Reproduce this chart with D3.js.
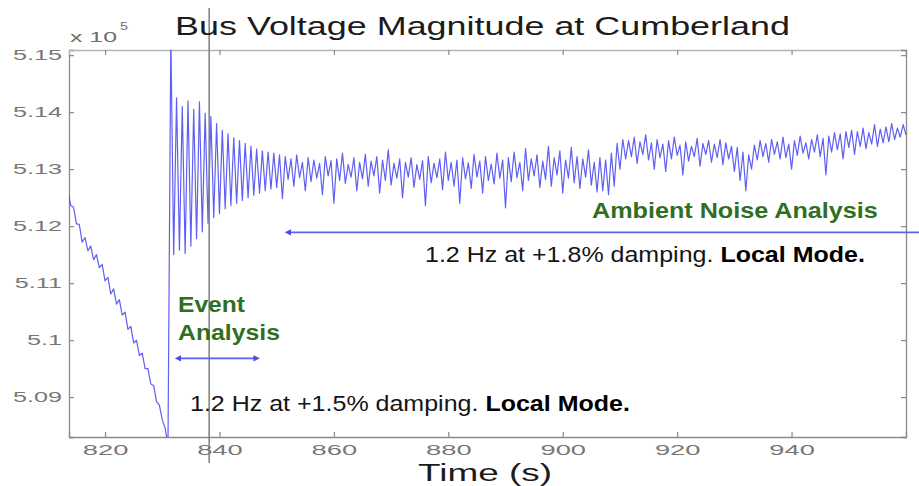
<!DOCTYPE html>
<html>
<head>
<meta charset="utf-8">
<script src="https://cdn.jsdelivr.net/npm/d3@7"></script>
<style>
  html, body { margin: 0; padding: 0; background: #fff; }
  svg { display: block; font-family: "Liberation Sans", Arial, Helvetica, sans-serif; }
  text { white-space: pre; }
</style>
</head>
<body>
<svg id="chart" width="919" height="486"></svg>
<script>
// ---- chart content -------------------------------------------------------
const chartTitle = "Bus Voltage Magnitude at Cumberland";
const xLabel = "Time (s)";
const yExponent = "5";

const xTicks = [820, 840, 860, 880, 900, 920, 940];
const yTicks = [5.09, 5.1, 5.11, 5.12, 5.13, 5.14, 5.15];
const yTickLabels = ["5.09", "5.1", "5.11", "5.12", "5.13", "5.14", "5.15"];

// bus voltage magnitude (x 10^5 V), sampled every 0.5 s from t = 813.5 s
const sampleStart = 813.5;
const sampleStep = 0.5;
const busVoltage = [
  // 813.5 – 831.0 s : sagging voltage before the event
  5.1262, 5.1236, 5.1233, 5.1204, 5.1203, 5.1172, 5.1180, 5.1157, 5.1165, 5.1141,
  5.1150, 5.1127, 5.1133, 5.1104, 5.1110, 5.1081, 5.1090, 5.1063, 5.1071, 5.1044,
  5.1049, 5.1019, 5.1024, 5.0995, 5.1000, 5.0973, 5.0977, 5.0950, 5.0950, 5.0923,
  5.0920, 5.0892, 5.0886, 5.0860, 5.0846, 5.0815,
  // 831.5 – 851.0 s : event ring-down
  5.1535, 5.1150, 5.1425, 5.1158, 5.1410, 5.1152, 5.1420, 5.1165, 5.1405, 5.1178,
  5.1418, 5.1190, 5.1398, 5.1205, 5.1392, 5.1215, 5.1380, 5.1222, 5.1368, 5.1230,
  5.1362, 5.1236, 5.1355, 5.1240, 5.1350, 5.1245, 5.1345, 5.1250, 5.1340, 5.1254,
  5.1335, 5.1258, 5.1332, 5.1262, 5.1330, 5.1265, 5.1328, 5.1268, 5.1325, 5.1248,
  // 851.5 – 960.0 s : ambient operation
  5.1322, 5.1282, 5.1318, 5.1270, 5.1325, 5.1285, 5.1312, 5.1262, 5.1320, 5.1278,
  5.1316, 5.1284, 5.1310, 5.1255, 5.1322, 5.1288, 5.1315, 5.1240, 5.1318, 5.1280,
  5.1328, 5.1275, 5.1308, 5.1286, 5.1320, 5.1262, 5.1312, 5.1283, 5.1326, 5.1270,
  5.1314, 5.1288, 5.1322, 5.1258, 5.1316, 5.1280, 5.1334, 5.1272, 5.1310, 5.1284,
  5.1318, 5.1250, 5.1312, 5.1286, 5.1320, 5.1268, 5.1308, 5.1282, 5.1315, 5.1236,
  5.1322, 5.1276, 5.1310, 5.1285, 5.1318, 5.1264, 5.1330, 5.1280, 5.1312, 5.1270,
  5.1316, 5.1240, 5.1320, 5.1283, 5.1311, 5.1266, 5.1326, 5.1286, 5.1314, 5.1258,
  5.1322, 5.1280, 5.1309, 5.1274, 5.1328, 5.1284, 5.1316, 5.1232, 5.1320, 5.1278,
  5.1330, 5.1285, 5.1312, 5.1262, 5.1336, 5.1280, 5.1318, 5.1288, 5.1325, 5.1268,
  5.1314, 5.1282, 5.1340, 5.1270, 5.1320, 5.1290, 5.1332, 5.1258, 5.1316, 5.1284,
  5.1338, 5.1276, 5.1322, 5.1266, 5.1318, 5.1286, 5.1334, 5.1272, 5.1312, 5.1260,
  5.1320, 5.1262, 5.1316, 5.1255, 5.1328, 5.1270, 5.1345, 5.1300, 5.1352, 5.1318,
  5.1350, 5.1322, 5.1356, 5.1310, 5.1348, 5.1326, 5.1360, 5.1316, 5.1346, 5.1300,
  5.1352, 5.1320, 5.1344, 5.1296, 5.1350, 5.1318, 5.1356, 5.1324, 5.1342, 5.1290,
  5.1348, 5.1314, 5.1340, 5.1322, 5.1354, 5.1305, 5.1345, 5.1326, 5.1350, 5.1312,
  5.1344, 5.1320, 5.1352, 5.1308, 5.1346, 5.1318, 5.1340, 5.1296, 5.1338, 5.1280,
  5.1330, 5.1262, 5.1325, 5.1300, 5.1342, 5.1316, 5.1350, 5.1322, 5.1345, 5.1312,
  5.1352, 5.1326, 5.1348, 5.1318, 5.1356, 5.1320, 5.1344, 5.1300, 5.1350, 5.1324,
  5.1358, 5.1328, 5.1346, 5.1318, 5.1352, 5.1330, 5.1360, 5.1322, 5.1354, 5.1290,
  5.1358, 5.1330, 5.1364, 5.1334, 5.1362, 5.1318, 5.1366, 5.1338, 5.1368, 5.1326,
  5.1366, 5.1340, 5.1372, 5.1336, 5.1364, 5.1344, 5.1378, 5.1340, 5.1370, 5.1346,
  5.1374, 5.1348, 5.1380, 5.1352, 5.1372, 5.1356, 5.1378, 5.1360
];

// analysis windows (s) and the levels where their arrows are drawn
const markerTime = 838.2;
const eventWindow = [832.75, 846.5];
const eventArrowLevel = 5.0968;
const ambientWindow = [852.0, 962.3];
const ambientArrowLevel = 5.1189;

const eventTitle = ["Event", "Analysis"];
const ambientTitle = "Ambient Noise Analysis";
const eventResult = ["1.2 Hz at +1.5% damping. ", "Local Mode."];
const ambientResult = ["1.2 Hz at +1.8% damping. ", "Local Mode."];

// ---- layout --------------------------------------------------------------
const plot = { left: 69, right: 906, top: 50, bottom: 437 };
const svg = d3.select("#chart");

const x = d3.scaleLinear().domain([813.7, 960]).range([plot.left, plot.right]);
const y = d3.scaleLinear().domain([5.083, 5.1509]).range([plot.bottom, plot.top]);

const series = busVoltage.map((v, i) => ({ t: sampleStart + i * sampleStep, v }));

const frameColor = "#8a8a8a";
const tickTextColor = "#777";
const noteGreen = "#2f6f22";
const traceBlue = "#4343f2";

// text whose width is fitted by a horizontal stretch
function placeText(parent, o) {
  const t = parent.append("text")
    .attr("font-size", o.size)
    .attr("fill", o.fill || "#111")
    .attr("text-anchor", o.anchor || "start");
  o.parts.forEach(p => t.append("tspan")
    .attr("font-weight", p.weight || "normal")
    .attr("fill", p.fill || null)
    .text(p.text));
  const w = t.node().getComputedTextLength();
  t.attr("transform", `translate(${o.x},${o.y}) scale(${o.width / w},1)`);
  return t;
}

// ---- axes & frame ----------------------------------------------------------
function styleAxis(g) {
  g.select(".domain").attr("stroke", frameColor).attr("stroke-width", 1.3);
  g.selectAll(".tick line").attr("stroke", frameColor).attr("stroke-width", 1.2);
}

const gx = svg.append("g")
  .attr("transform", `translate(0,${plot.bottom})`)
  .call(d3.axisBottom(x).tickValues(xTicks).tickSize(-5).tickPadding(8).tickFormat(d3.format("d")))
  .call(styleAxis);
gx.selectAll(".tick text")
  .attr("font-size", 14).attr("fill", tickTextColor)
  .attr("font-family", null)
  .attr("transform", "scale(1.95,1)");

const gy = svg.append("g")
  .attr("transform", `translate(${plot.left},0)`)
  .call(d3.axisLeft(y).tickValues(yTicks).tickSize(-5).tickPadding(7)
    .tickFormat((d, i) => yTickLabels[i]))
  .call(styleAxis);
gy.selectAll(".tick text")
  .attr("font-size", 14).attr("fill", tickTextColor)
  .attr("font-family", null)
  .attr("x", -7 / 1.8)
  .attr("transform", "scale(1.8,1)");

svg.append("g")
  .attr("transform", `translate(0,${plot.top})`)
  .call(d3.axisTop(x).tickValues(xTicks).tickSize(-5).tickFormat(""))
  .call(styleAxis)
  .call(g => g.select(".domain").attr("stroke", "#b5b5b5"));

svg.append("g")
  .attr("transform", `translate(${plot.right},0)`)
  .call(d3.axisRight(y).tickValues(yTicks).tickSize(-5).tickFormat(""))
  .call(styleAxis);

// ---- voltage trace ---------------------------------------------------------
svg.append("clipPath").attr("id", "plot-clip")
  .append("rect")
  .attr("x", plot.left).attr("y", plot.top)
  .attr("width", plot.right - plot.left).attr("height", plot.bottom - plot.top);

svg.append("path")
  .datum(series)
  .attr("clip-path", "url(#plot-clip)")
  .attr("fill", "none")
  .attr("stroke", traceBlue)
  .attr("stroke-width", 1.2)
  .attr("stroke-opacity", 0.85)
  .attr("stroke-linejoin", "round")
  .attr("d", d3.line().x(d => x(d.t)).y(d => y(d.v)));

// event marker line
svg.append("line")
  .attr("x1", x(markerTime)).attr("x2", x(markerTime))
  .attr("y1", 8).attr("y2", 463)
  .attr("stroke", "#7d7d7d").attr("stroke-width", 1.5);

// ---- titles ----------------------------------------------------------------
placeText(svg, { parts: [{ text: chartTitle }], x: 482.5, y: 35, width: 615, size: 25,
  anchor: "middle", fill: "#1c1c1c" });
placeText(svg, { parts: [{ text: xLabel }], x: 485, y: 480.5, width: 134, size: 23.5,
  anchor: "middle", fill: "#1c1c1c" });
placeText(svg, { parts: [{ text: "x 10" }], x: 70, y: 42, width: 47, size: 15, fill: "#6e6e6e" });
placeText(svg, { parts: [{ text: yExponent }], x: 120, y: 30, width: 8, size: 10, fill: "#6e6e6e" });

// ---- analysis annotations --------------------------------------------------
const defs = svg.append("defs");
function arrowMarker(id, orient) {
  defs.append("marker")
    .attr("id", id).attr("viewBox", "0 0 10 10")
    .attr("refX", 5).attr("refY", 5)
    .attr("markerWidth", 4).attr("markerHeight", 4)
    .attr("orient", orient)
    .append("path").attr("d", "M0,0 L10,5 L0,10 Z").attr("fill", "#4b4be8");
}
arrowMarker("head-end", "auto");
arrowMarker("head-start", "auto-start-reverse");

const ev = svg.append("g");
placeText(ev, { parts: [{ text: eventTitle[0], weight: "bold" }], x: 178, y: 312, width: 67, size: 22, fill: noteGreen });
placeText(ev, { parts: [{ text: eventTitle[1], weight: "bold" }], x: 178, y: 340, width: 102, size: 22, fill: noteGreen });
ev.append("line")
  .attr("x1", x(eventWindow[0])).attr("x2", x(eventWindow[1]))
  .attr("y1", y(eventArrowLevel)).attr("y2", y(eventArrowLevel))
  .attr("stroke", "#5c5cf0").attr("stroke-width", 1.6)
  .attr("marker-start", "url(#head-start)").attr("marker-end", "url(#head-end)");
placeText(ev, { parts: [{ text: eventResult[0] }, { text: eventResult[1], weight: "bold", fill: "#000" }],
  x: 190, y: 411, width: 440, size: 22, fill: "#151515" });

const amb = svg.append("g");
placeText(amb, { parts: [{ text: ambientTitle, weight: "bold" }], x: 592, y: 218, width: 286, size: 22, fill: noteGreen });
amb.append("line")
  .attr("x1", x(ambientWindow[0])).attr("x2", x(ambientWindow[1]))
  .attr("y1", y(ambientArrowLevel)).attr("y2", y(ambientArrowLevel))
  .attr("stroke", "#6262f0").attr("stroke-width", 1.6)
  .attr("marker-start", "url(#head-start)");
placeText(amb, { parts: [{ text: ambientResult[0] }, { text: ambientResult[1], weight: "bold", fill: "#000" }],
  x: 425, y: 262, width: 440, size: 22, fill: "#151515" });
</script>
</body>
</html>
